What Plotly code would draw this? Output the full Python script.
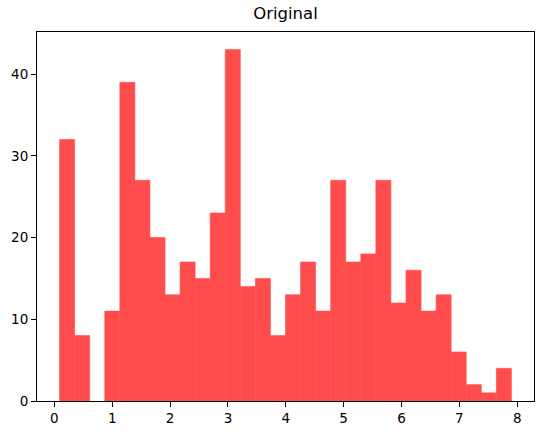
import numpy as np
import plotly.graph_objects as go

counts = [32, 8, 0, 11, 39, 27, 20, 13, 17, 15, 23, 43, 14, 15, 8,
          13, 17, 11, 27, 17, 18, 27, 12, 16, 11, 13, 6, 2, 1, 4]
bin_start = 0.09
bin_end = 7.90
x_ticks = [0, 1, 2, 3, 4, 5, 6, 7, 8]
y_ticks = [0, 10, 20, 30, 40]
title = "Original"

edges = np.linspace(bin_start, bin_end, len(counts) + 1)
centers = (edges[:-1] + edges[1:]) / 2
width = edges[1] - edges[0]

bar_color = "#ff4d4d"  # rgba(255,0,0,0.7) on white
fig = go.Figure(go.Bar(
    x=centers, y=counts, width=width,
    marker=dict(color=bar_color,
                line=dict(width=[0.6 if c > 0 else 0 for c in counts],
                          color=bar_color)),
))

span = bin_end - bin_start
ymax = max(counts)
axis_common = dict(
    showline=True, linecolor="black", linewidth=1, mirror=True,
    ticks="outside", ticklen=5, tickwidth=1, tickcolor="black",
    showgrid=False, zeroline=False, automargin=False,
    tickfont=dict(family="DejaVu Sans", size=13.5, color="black"),
)
fig.update_xaxes(range=[bin_start - 0.05 * span, bin_end + 0.05 * span],
                 tickvals=x_ticks, **axis_common)
fig.update_yaxes(range=[0, ymax * 1.05], tickvals=y_ticks, **axis_common)

fig.update_layout(
    width=543, height=435,
    margin=dict(l=37, r=9, t=32, b=34, pad=0, autoexpand=False),
    plot_bgcolor="white", paper_bgcolor="white",
    showlegend=False,
    title=dict(text=title, x=0.5, xref="paper", y=1 - 13 / 435,
               yref="container", yanchor="middle", xanchor="center",
               automargin=False,
               font=dict(family="DejaVu Sans", size=16.5, color="black")),
)

fig.write_html("out.html", config={"displayModeBar": False},
               post_script="document.body.style.margin='0';document.body.style.overflow='hidden';")
